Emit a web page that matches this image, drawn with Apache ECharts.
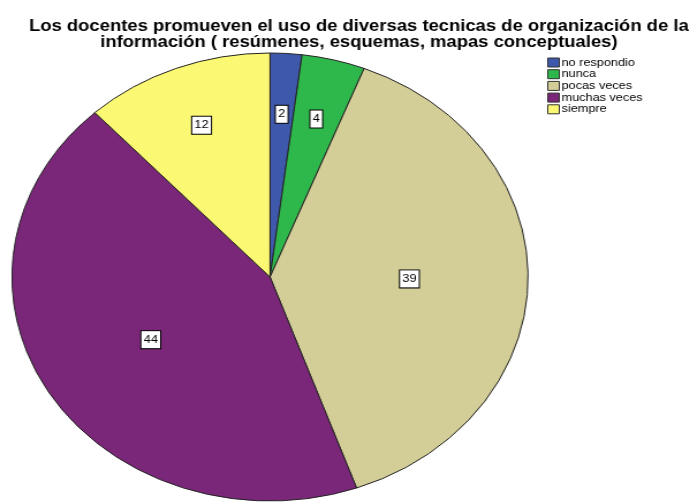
<!DOCTYPE html>
<html>
<head>
<meta charset="utf-8">
<script src="https://cdn.jsdelivr.net/npm/echarts@6/dist/echarts.min.js"></script>
<style>
  html, body { margin: 0; padding: 0; background: #fff; }
  #wrap { position: relative; width: 693px; height: 502px; overflow: hidden; }
  /* the SPSS export is stretched horizontally (round pie -> ellipse), so stretch the whole chart */
  #main { position: absolute; left: 0; top: 0; width: 602px; height: 502px;
          transform: scaleX(1.152); transform-origin: 0 0; }
</style>
</head>
<body>
<div id="wrap">
  <div id="main"></div>
</div>
<script>
var categories = ['no respondio', 'nunca', 'pocas veces', 'muchas veces', 'siempre'];
var counts = [2, 4, 39, 44, 12];
var colors = ['#3e58ac', '#2eb84b', '#d3ce97', '#7b2779', '#fbf873'];
var titleText = 'Los docentes promueven el uso de diversas tecnicas de organización de la\ninformación ( resúmenes, esquemas, mapas conceptuales)';

var font = 'Liberation Sans, Arial, sans-serif';
var pieCenter = [234.4, 277];

var pieData = [];
for (var i = 0; i < categories.length; i++) {
  pieData.push({ name: categories[i], value: counts[i], itemStyle: { color: colors[i] } });
}

// transparent copy of the pie, only used to place the value boxes
function labelPie(radius, showIdx) {
  var d = [];
  for (var i = 0; i < categories.length; i++) {
    d.push({
      name: categories[i],
      value: counts[i],
      label: { show: showIdx.indexOf(i) >= 0 }
    });
  }
  return {
    type: 'pie',
    center: pieCenter,
    radius: radius,
    startAngle: 90,
    clockwise: true,
    silent: true,
    z: 3,
    itemStyle: { color: 'rgba(0,0,0,0)', borderWidth: 0 },
    label: {
      position: 'inside',
      formatter: '{c}',
      color: '#000',
      fontFamily: font,
      fontSize: 11,
      lineHeight: 12,
      backgroundColor: '#fff',
      borderColor: '#000',
      borderWidth: 1,
      padding: [3, 2, 2, 2]
    },
    labelLine: { show: false },
    emphasis: { disabled: true },
    data: d
  };
}

var legendData = [];
for (var j = 0; j < categories.length; j++) {
  legendData.push({ name: categories[j], itemStyle: { color: colors[j], borderColor: '#333', borderWidth: 1 } });
}

var chart = echarts.init(document.getElementById('main'));
chart.setOption({
  animation: false,
  title: {
    text: titleText,
    left: 306.5,
    top: 14,
    textAlign: 'center',
    textStyle: {
      fontFamily: font,
      fontSize: 16,
      fontWeight: 'bold',
      lineHeight: 16,
      color: '#000'
    }
  },
  legend: {
    orient: 'vertical',
    left: 470,
    top: 52,
    icon: 'rect',
    itemWidth: 10,
    itemHeight: 9,
    itemGap: 0.7,
    selectedMode: false,
    textStyle: {
      fontFamily: font,
      fontSize: 11,
      lineHeight: 11,
      color: '#000',
      padding: [0, 0, 0, -3]
    },
    data: legendData
  },
  series: [
    {
      type: 'pie',
      center: pieCenter,
      radius: 224,
      startAngle: 90,
      clockwise: true,
      silent: true,
      label: { show: false },
      labelLine: { show: false },
      itemStyle: { borderColor: '#222', borderWidth: 1 },
      data: pieData
    },
    labelPie(320, [0, 1, 4]),
    labelPie(236, [2, 3])
  ]
});
</script>
</body>
</html>
